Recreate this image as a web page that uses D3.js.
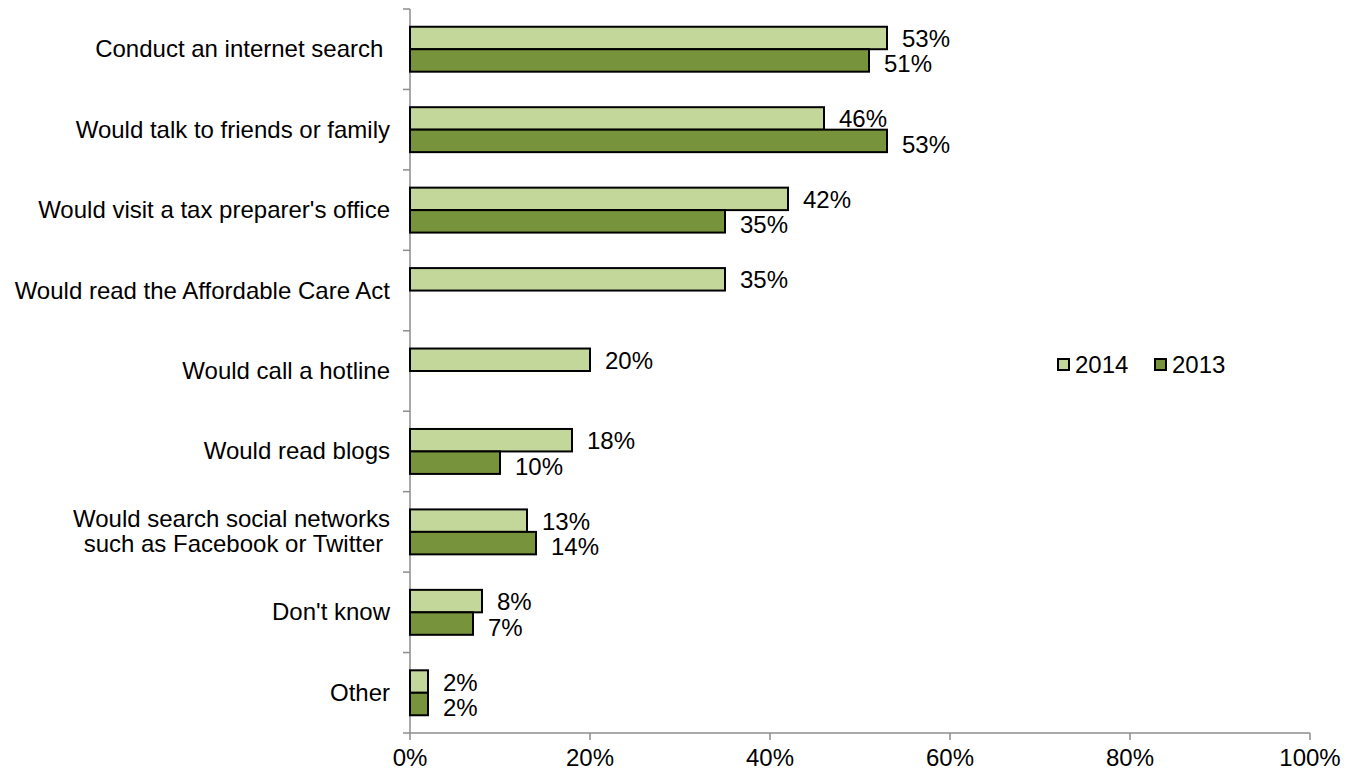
<!DOCTYPE html>
<html>
<head>
<meta charset="utf-8">
<script src="https://cdn.jsdelivr.net/npm/d3@7"></script>
<style>
  body { margin: 0; background: #fff; }
  text { font-family: "Liberation Sans", Arial, sans-serif; fill: #000; }
</style>
</head>
<body>
<svg id="chart"></svg>
<script>
var categories = [
  ["Conduct an internet search\u00a0"],
  ["Would talk to friends or family"],
  ["Would visit a tax preparer's office"],
  ["Would read the Affordable Care Act"],
  ["Would call a hotline"],
  ["Would read blogs"],
  ["Would search social networks", "such as Facebook or Twitter\u00a0"],
  ["Don't know"],
  ["Other"]
];
var values2014 = [53, 46, 42, 35, 20, 18, 13, 8, 2];
var values2013 = [51, 53, 35, null, null, 10, 14, 7, 2];
var seriesNames = ["2014", "2013"];
var seriesColors = ["#c4d79b", "#77933c"];
var xTicks = [0, 20, 40, 60, 80, 100];

var width = 1360, height = 774;
var plotLeft = 410, plotRight = 1310, plotTop = 9, plotBottom = 733;
var fontSize = "24px";

var svg = d3.select("#chart").attr("width", width).attr("height", height);

var x = d3.scaleLinear().domain([0, 100]).range([plotLeft, plotRight]);
var y = d3.scaleBand().domain(d3.range(categories.length)).range([plotTop, plotBottom]);
var inner = d3.scaleBand().domain([0, 1]).range([0, y.bandwidth()]).paddingOuter(0.79);

var series = [values2014, values2013];

// y axis line and ticks
svg.append("line")
  .attr("x1", plotLeft).attr("x2", plotLeft).attr("y1", plotTop).attr("y2", plotBottom)
  .attr("stroke", "#8c8c8c").attr("stroke-width", 1.5);
svg.selectAll(".ytick")
  .data(d3.range(categories.length + 1))
  .enter().append("line")
  .attr("x1", plotLeft - 7).attr("x2", plotLeft)
  .attr("y1", function(d) { return plotTop + d * y.step(); })
  .attr("y2", function(d) { return plotTop + d * y.step(); })
  .attr("stroke", "#8c8c8c").attr("stroke-width", 1.5);

// x axis
svg.append("line")
  .attr("x1", plotLeft).attr("x2", plotRight).attr("y1", plotBottom).attr("y2", plotBottom)
  .attr("stroke", "#8c8c8c").attr("stroke-width", 1.5);
svg.selectAll(".xtick")
  .data(xTicks)
  .enter().append("line")
  .attr("x1", function(d) { return x(d); })
  .attr("x2", function(d) { return x(d); })
  .attr("y1", plotBottom).attr("y2", plotBottom + 7)
  .attr("stroke", "#8c8c8c").attr("stroke-width", 1.5);
svg.selectAll(".xlabel")
  .data(xTicks)
  .enter().append("text")
  .attr("x", function(d) { return x(d); })
  .attr("y", 766)
  .attr("text-anchor", "middle")
  .attr("font-size", fontSize)
  .text(function(d) { return d + "%"; });

// category labels
var catG = svg.selectAll(".cat")
  .data(categories)
  .enter().append("text")
  .attr("text-anchor", "end")
  .attr("font-size", fontSize)
  .attr("transform", function(d, i) {
    var cy = y(i) + y.bandwidth() / 2 - (d.length - 1) * 12.5;
    return "translate(390," + (cy + 8) + ")";
  });
catG.selectAll("tspan")
  .data(function(d) { return d; })
  .enter().append("tspan")
  .attr("x", 0)
  .attr("dy", function(d, i) { return i === 0 ? 0 : 25; })
  .text(function(d) { return d; });

// bars
series.forEach(function(vals, s) {
  var data = vals.map(function(v, i) { return { v: v, i: i }; })
    .filter(function(d) { return d.v !== null; });
  svg.selectAll(".bar" + s)
    .data(data)
    .enter().append("rect")
    .attr("x", x(0))
    .attr("y", function(d) { return y(d.i) + inner(s); })
    .attr("width", function(d) { return x(d.v) - x(0); })
    .attr("height", inner.bandwidth())
    .attr("fill", seriesColors[s])
    .attr("stroke", "#000")
    .attr("stroke-width", 2);
  svg.selectAll(".lbl" + s)
    .data(data)
    .enter().append("text")
    .attr("x", function(d) { return x(d.v) + 15; })
    .attr("y", function(d) { return y(d.i) + inner(s) + inner.bandwidth() / 2 + 9 + s * 3; })
    .attr("font-size", fontSize)
    .text(function(d) { return d.v + "%"; });
});

// legend
var legend = svg.append("g").attr("transform", "translate(1058,359)");
seriesNames.forEach(function(name, s) {
  var g = legend.append("g").attr("transform", "translate(" + (s * 97) + ",0)");
  g.append("rect")
    .attr("width", 11).attr("height", 11)
    .attr("fill", seriesColors[s]).attr("stroke", "#000").attr("stroke-width", 2);
  g.append("text")
    .attr("x", 17).attr("y", 14)
    .attr("font-size", fontSize)
    .text(name);
});
</script>
</body>
</html>
